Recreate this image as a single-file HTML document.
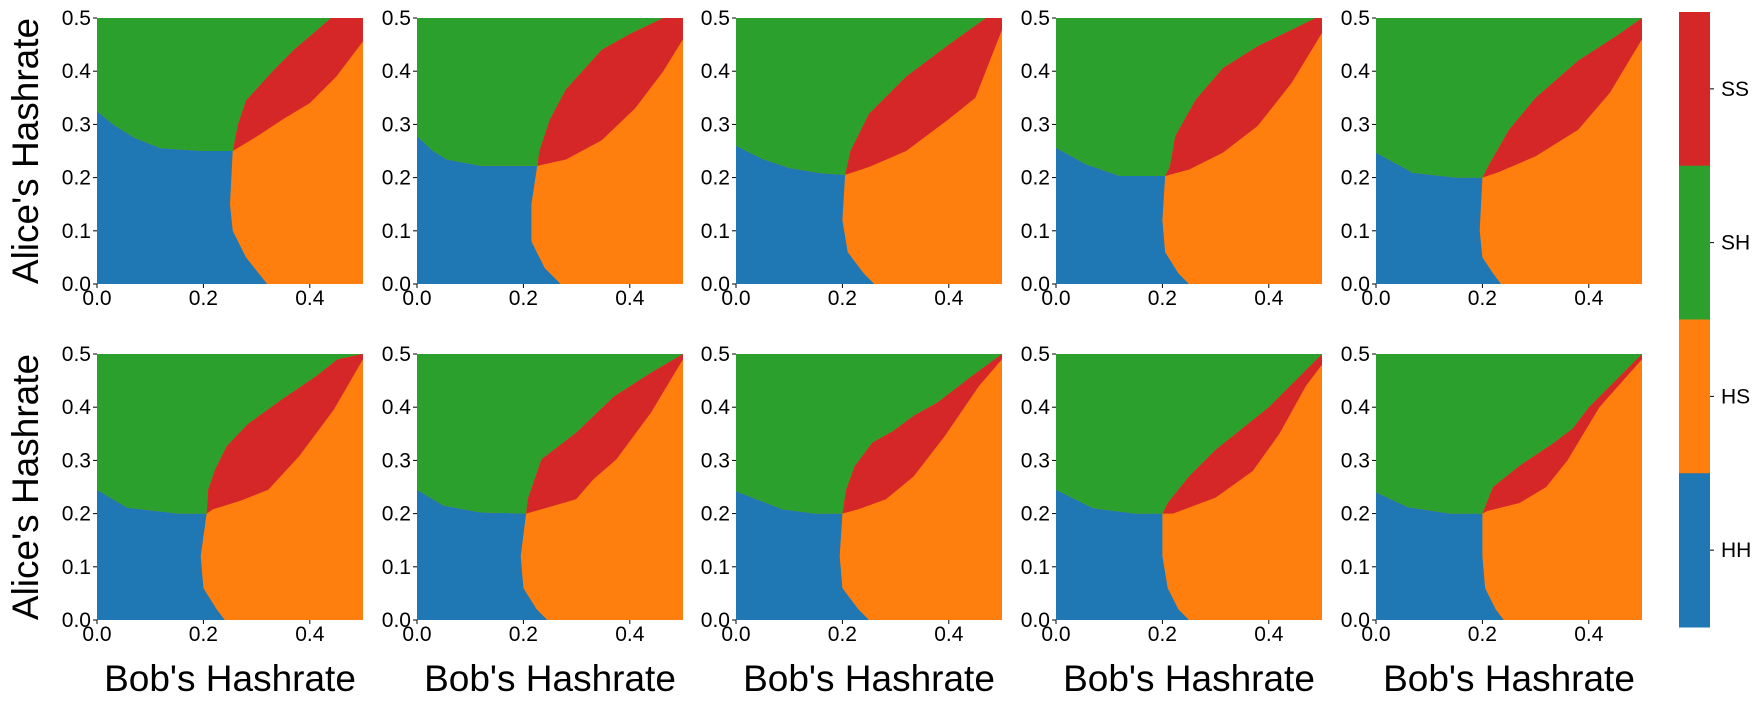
<!DOCTYPE html>
<html><head><meta charset="utf-8">
<style>
html,body{margin:0;padding:0;background:#fff;}
svg{display:block;font-family:"Liberation Sans","DejaVu Sans",sans-serif;}
</style></head>
<body>
<svg id="fig" width="1761" height="705" viewBox="0 0 1761 705" xmlns="http://www.w3.org/2000/svg"></svg>
<script>
// Region boundaries per panel, [bob, alice] in hashrate units
const hhTop = [
 [[0,0.325],[0.03,0.30],[0.07,0.275],[0.12,0.255],[0.2,0.25],[0.255,0.25]],
 [[0,0.278],[0.03,0.25],[0.056,0.234],[0.12,0.222],[0.226,0.222]],
 [[0,0.26],[0.05,0.235],[0.1,0.218],[0.16,0.208],[0.205,0.205]],
 [[0,0.256],[0.056,0.225],[0.12,0.203],[0.205,0.203]],
 [[0,0.247],[0.069,0.209],[0.15,0.2],[0.2,0.2]],
 [[0,0.245],[0.057,0.211],[0.154,0.2],[0.206,0.2]],
 [[0,0.245],[0.05,0.215],[0.12,0.202],[0.205,0.2]],
 [[0,0.242],[0.087,0.208],[0.15,0.2],[0.2,0.2]],
 [[0,0.245],[0.07,0.21],[0.15,0.2],[0.2,0.2]],
 [[0,0.24],[0.06,0.212],[0.14,0.2],[0.2,0.2]]
];
const hhRight = [
 [[0.255,0.25],[0.25,0.15],[0.255,0.1],[0.28,0.05],[0.32,0]],
 [[0.226,0.222],[0.215,0.15],[0.215,0.08],[0.24,0.03],[0.27,0]],
 [[0.205,0.205],[0.2,0.12],[0.21,0.06],[0.24,0.02],[0.26,0]],
 [[0.205,0.203],[0.2,0.12],[0.205,0.06],[0.23,0.02],[0.25,0]],
 [[0.2,0.2],[0.195,0.1],[0.2,0.05],[0.22,0.02],[0.235,0]],
 [[0.206,0.2],[0.195,0.12],[0.2,0.06],[0.225,0.02],[0.24,0]],
 [[0.205,0.2],[0.195,0.12],[0.2,0.06],[0.225,0.02],[0.245,0]],
 [[0.2,0.2],[0.195,0.12],[0.2,0.06],[0.23,0.02],[0.25,0]],
 [[0.2,0.2],[0.2,0.12],[0.21,0.06],[0.23,0.02],[0.25,0]],
 [[0.2,0.2],[0.2,0.12],[0.205,0.06],[0.225,0.02],[0.24,0]]
];
const ssUpper = [
 [[0.255,0.25],[0.265,0.3],[0.28,0.345],[0.33,0.40],[0.37,0.44],[0.44,0.5]],
 [[0.226,0.222],[0.23,0.25],[0.25,0.31],[0.28,0.366],[0.347,0.44],[0.40,0.47],[0.463,0.5]],
 [[0.205,0.205],[0.215,0.25],[0.25,0.32],[0.32,0.39],[0.4,0.45],[0.47,0.5]],
 [[0.205,0.203],[0.214,0.22],[0.224,0.278],[0.263,0.347],[0.314,0.406],[0.379,0.447],[0.443,0.478],[0.488,0.5]],
 [[0.2,0.2],[0.21,0.22],[0.25,0.29],[0.3,0.35],[0.38,0.42],[0.45,0.465],[0.5,0.5]],
 [[0.206,0.2],[0.209,0.245],[0.222,0.283],[0.244,0.327],[0.283,0.368],[0.348,0.415],[0.413,0.459],[0.452,0.49],[0.5,0.5]],
 [[0.205,0.2],[0.208,0.227],[0.234,0.302],[0.299,0.352],[0.37,0.42],[0.44,0.465],[0.5,0.5]],
 [[0.2,0.2],[0.207,0.245],[0.223,0.289],[0.256,0.333],[0.295,0.355],[0.334,0.384],[0.379,0.409],[0.444,0.459],[0.5,0.5]],
 [[0.2,0.2],[0.21,0.22],[0.25,0.27],[0.3,0.32],[0.4,0.4],[0.45,0.45],[0.49,0.49]],
 [[0.2,0.2],[0.22,0.25],[0.27,0.29],[0.33,0.33],[0.37,0.36],[0.4,0.4],[0.45,0.45],[0.49,0.49]]
];
const ssLower = [
 [[0.255,0.25],[0.3,0.277],[0.35,0.31],[0.4,0.34],[0.45,0.39],[0.5,0.456]],
 [[0.226,0.222],[0.28,0.234],[0.347,0.27],[0.41,0.33],[0.463,0.40],[0.5,0.46]],
 [[0.205,0.205],[0.25,0.22],[0.32,0.25],[0.4,0.31],[0.45,0.35],[0.5,0.478]],
 [[0.205,0.203],[0.25,0.215],[0.314,0.247],[0.379,0.297],[0.443,0.378],[0.5,0.472]],
 [[0.2,0.2],[0.23,0.21],[0.3,0.24],[0.38,0.29],[0.44,0.36],[0.5,0.46]],
 [[0.206,0.2],[0.218,0.208],[0.27,0.224],[0.322,0.245],[0.38,0.308],[0.445,0.395],[0.5,0.49]],
 [[0.205,0.2],[0.234,0.208],[0.299,0.227],[0.331,0.264],[0.375,0.302],[0.44,0.39],[0.5,0.49]],
 [[0.2,0.2],[0.23,0.208],[0.282,0.227],[0.334,0.27],[0.392,0.345],[0.457,0.44],[0.5,0.49]],
 [[0.2,0.2],[0.22,0.2],[0.3,0.23],[0.37,0.28],[0.42,0.35],[0.47,0.44],[0.5,0.48]],
 [[0.2,0.2],[0.21,0.205],[0.27,0.22],[0.32,0.25],[0.36,0.3],[0.42,0.4],[0.5,0.49]]
];
const xTicks = [0.0, 0.2, 0.4];
const yTicks = [0.0, 0.1, 0.2, 0.3, 0.4, 0.5];
const cbLabels = ["SS","SH","HS","HH"];
const cbColors = ["#d62728","#2ca02c","#ff7f0e","#1f77b4"];

const NS="http://www.w3.org/2000/svg";
const svg=document.getElementById('fig');
function mk(tag,attrs,parent){const e=document.createElementNS(NS,tag);for(const k in attrs)e.setAttribute(k,attrs[k]);(parent||svg).appendChild(e);return e;}
const panelLefts=[97,417,736,1056,1376];
const rowTops=[18,354];
const PW=266, PH=266;

for(let i=0;i<10;i++){
  const r=Math.floor(i/5), c=i%5;
  const L=panelLefts[c], T=rowTops[r];
  const sx=v=>L+v/0.5*PW, sy=v=>T+PH-v/0.5*PH;
  const P=a=>a.map(p=>sx(p[0]).toFixed(1)+','+sy(p[1]).toFixed(1)).join(' ');
  const g=mk('g',{});
  
  
  const bg=mk('rect',{x:L,y:T,width:PW,height:PH,fill:'#ff7f0e'},g);
  
  
  const top=hhTop[i], right=hhRight[i], up=ssUpper[i], lo=ssLower[i];
  const blue=mk('polygon',{points:P([[0,0]].concat(top,right.slice(1))),fill:'#1f77b4'},g);
  
  
  const green=mk('polygon',{points:P([[0,0.5]].concat(top,up.slice(1),[[0.5,0.5]])),fill:'#2ca02c'},g);
  
  
  const redPts=up.concat([[0.5,0.5]]).concat(lo.slice().reverse());
  const red=mk('polygon',{points:P(redPts),fill:'#d62728'},g);
  
  
  yTicks.forEach(v=>{
    mk('line',{x1:L-4,x2:L,y1:sy(v),y2:sy(v),stroke:'#000','stroke-width':1},g);
    const t=mk('text',{x:L-6,y:sy(v)+7,'text-anchor':'end','font-size':21},g);
    t.textContent=v.toFixed(1);
    
    
  });
  xTicks.forEach(v=>{
    mk('line',{x1:sx(v),x2:sx(v),y1:T+PH,y2:T+PH+4,stroke:'#000','stroke-width':1},g);
    const t=mk('text',{x:sx(v),y:T+PH+21,'text-anchor':'middle','font-size':21},g);
    t.textContent=v.toFixed(1);
    
    
  });
  if(r===1){
    const t=mk('text',{x:L+PW/2,y:691,'text-anchor':'middle','font-size':37},g);
    t.textContent="Bob's Hashrate";
    
    
  }
  if(c===0){
    const cy=T+PH/2;
    const t=mk('text',{x:38,y:cy,'text-anchor':'middle','font-size':37,transform:'rotate(-90 38 '+cy+')'},g);
    t.textContent="Alice's Hashrate";
    
    
  }
}
const cbTop=12, cbH=615, cbX=1679, cbW=31;
const seg=cbH/cbLabels.length;
cbLabels.forEach((lab,k)=>{
  const y=cbTop+k*seg;
  const rc=mk('rect',{x:cbX,y:y,width:cbW,height:seg+0.5,fill:cbColors[k]});
  
  
  mk('line',{x1:cbX+cbW,x2:cbX+cbW+4,y1:y+seg/2,y2:y+seg/2,stroke:'#000'});
  const t=mk('text',{x:cbX+cbW+11,y:y+seg/2+7,'font-size':21});
  t.textContent=lab;
  
  
});
</script>
</body></html>
